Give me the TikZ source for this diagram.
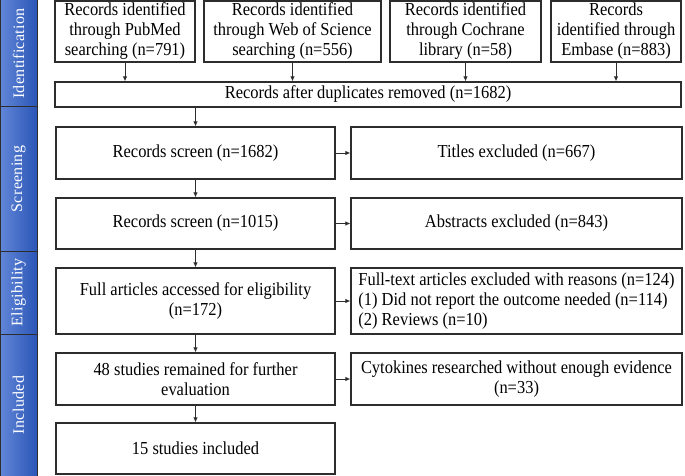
\documentclass[tikz,border=0pt]{standalone}
\usepackage{fontspec}
\setmainfont{Liberation Serif}[FakeStretch=0.9]
\newfontfamily\sidefont{Liberation Serif}[LetterSpace=2]
\usetikzlibrary{arrows.meta}
\definecolor{side_light}{RGB}{98,134,216}
\definecolor{side_dark}{RGB}{42,86,182}
\definecolor{box_line}{RGB}{45,45,45}
\tikzstyle{box}=[rectangle,draw=box_line,line width=1.2pt,fill=white,
  align=center,inner sep=2pt,font=\fontsize{18.3}{20}\selectfont]
\tikzstyle{phase}=[rectangle,draw=box_line,line width=1pt,
  left color=side_light,right color=side_dark,text=white,
  minimum width=37pt,inner sep=0pt,font=\sidefont\fontsize{16}{19}\selectfont]
\tikzstyle{arr}=[-{Latex[length=5pt,width=4.5pt]},line width=1pt,draw=box_line]

\begin{document}
\begin{tikzpicture}[x=1pt,y=-1pt]
            \useasboundingbox (0,0) rectangle (685,476);
            % stages on the left
            \node [style=phase,minimum height=107pt] (21) at (18.5, 53.5) {\rotatebox{90}{Identification}};
            \node [style=phase,minimum height=144pt] (22) at (18.5, 179) {\rotatebox{90}{Screening}};
            \node [style=phase,minimum height=83pt] (23) at (18.5, 292.5) {\rotatebox{90}{Eligibility}};
            \node [style=phase,minimum height=142pt] (24) at (18.5, 405) {\rotatebox{90}{Included}};
            % sources
            \node [style=box,minimum width=140pt,minimum height=61pt] (1) at (125, 31.5) {Records identified\\through PubMed\\searching (n=791)};
            \node [style=box,minimum width=177pt,minimum height=61pt] (2) at (292.5, 31.5) {Records identified\\through Web of Science\\searching (n=556)};
            \node [style=box,minimum width=151pt,minimum height=61pt] (3) at (465.5, 31.5) {Records identified\\through Cochrane\\library (n=58)};
            \node [style=box,minimum width=130pt,minimum height=61pt] (4) at (616, 31.5) {Records\\identified through\\Embase (n=883)};
            \node [style=box,minimum width=626pt,minimum height=25pt] (5) at (368, 94.5) {Records after duplicates removed (n=1682)};
            % main column
            \node [style=box,minimum width=279pt,minimum height=52pt] (6) at (195.5, 153) {Records screen (n=1682)};
            \node [style=box,minimum width=279pt,minimum height=51pt] (8) at (195.5, 223.5) {Records screen (n=1015)};
            \node [style=box,minimum width=279pt,minimum height=66pt] (10) at (195.5, 301) {Full articles accessed for eligibility\\(n=172)};
            \node [style=box,minimum width=279pt,minimum height=52pt] (12) at (195.5, 379) {48 studies remained for further\\evaluation};
            \node [style=box,minimum width=279pt,minimum height=51pt] (14) at (195.5, 448.5) {15 studies included};
            % excluded
            \node [style=box,minimum width=331pt,minimum height=52pt] (7) at (516.5, 153) {Titles excluded (n=667)};
            \node [style=box,minimum width=331pt,minimum height=51pt] (9) at (516.5, 223.5) {Abstracts excluded (n=843)};
            \node [style=box,minimum width=331pt,minimum height=66pt,align=left] (11) at (516.5, 301) {Full-text articles excluded with reasons (n=124)\\(1) Did not report the outcome needed (n=114)\\(2) Reviews (n=10)};
            \node [style=box,minimum width=331pt,minimum height=52pt] (13) at (516.5, 379) {Cytokines researched without enough evidence\\(n=33)};
            \draw [style=arr] (1) to (1 |- 5.north);
            \draw [style=arr] (2) to (2 |- 5.north);
            \draw [style=arr] (3) to (3 |- 5.north);
            \draw [style=arr] (4) to (4 |- 5.north);
            \draw [style=arr] (6 |- 5.south) to (6);
            \draw [style=arr] (6) to (8);
            \draw [style=arr] (8) to (10);
            \draw [style=arr] (10) to (12);
            \draw [style=arr] (12) to (14);
            \draw [style=arr] (6) to (7);
            \draw [style=arr] (8) to (9);
            \draw [style=arr] (10) to (11);
            \draw [style=arr] (12) to (13);
    \end{tikzpicture}
\end{document}
